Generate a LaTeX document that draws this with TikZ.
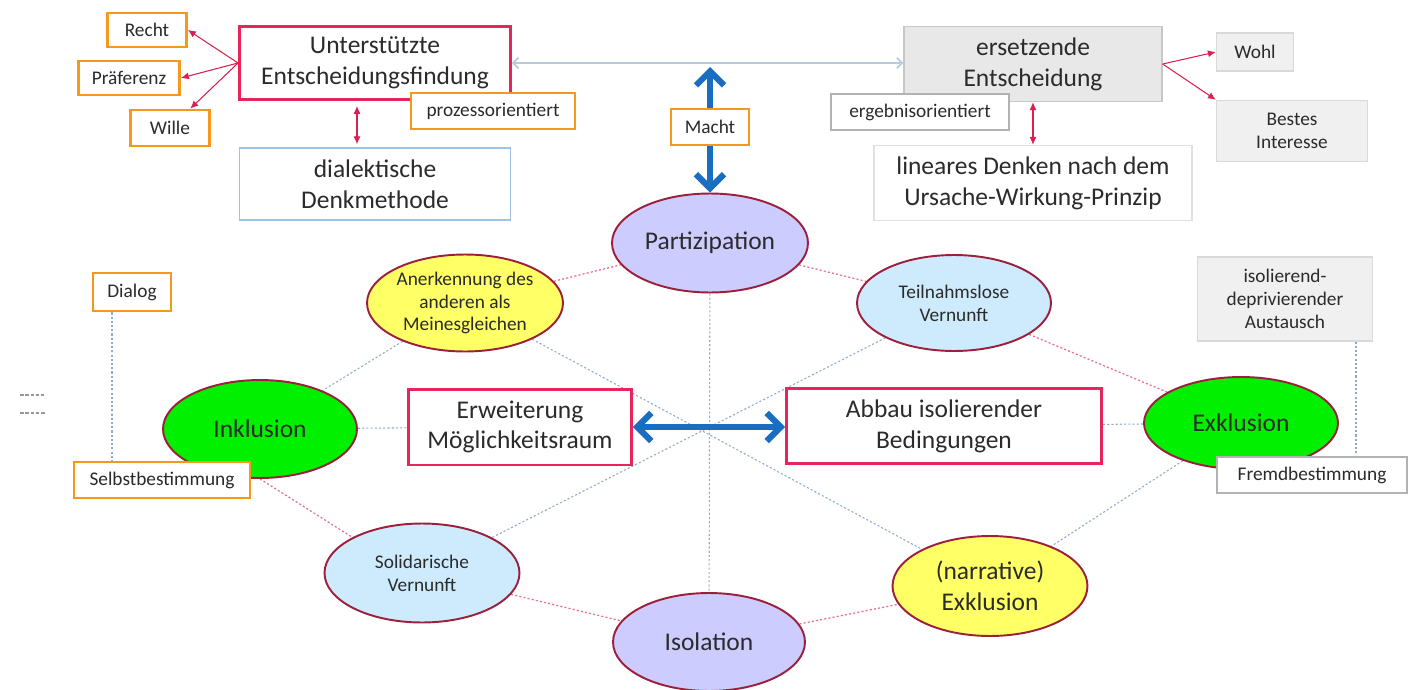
\documentclass[tikz,border=0pt]{standalone}
\usepackage{fontspec}
\setmainfont{Carlito}
\usetikzlibrary{arrows.meta,shapes.geometric}
\definecolor{boxred}{HTML}{E8245C}
\definecolor{tagorange}{HTML}{F7981D}
\definecolor{ovalline}{HTML}{9C1F3C}
\definecolor{lavender}{HTML}{CCCCFF}
\definecolor{skyfill}{HTML}{CDEBFD}
\definecolor{yellowfill}{HTML}{FFFF66}
\definecolor{greenfill}{HTML}{00F000}
\definecolor{arrowblue}{HTML}{1A6EC1}
\definecolor{linkblue}{HTML}{B7CBDF}
\definecolor{dotblue}{HTML}{8FAAC4}
\definecolor{dotred}{HTML}{E8728E}
\definecolor{arrowred}{HTML}{D92050}
\definecolor{textgray}{HTML}{2B2B2B}
\definecolor{methodblue}{HTML}{9DC3E6}
\pgfdeclarelayer{bg}
\pgfsetlayers{bg,main}

\begin{document}
\begin{tikzpicture}[x=0.02cm,y=-0.02cm,
  every node/.style={text=textgray},
  big/.style={font=\fontsize{14.5}{17.5}\selectfont},
  small/.style={font=\fontsize{11}{13}\selectfont},
  redbox/.style={draw=boxred,line width=1.7pt,fill=white,align=center,big,inner sep=1pt},
  tagbox/.style={draw=tagorange,line width=1.6pt,fill=white,align=center,small,inner sep=1pt},
  greybox/.style={draw=black!22,line width=0.8pt,fill=black!9,align=center,inner sep=1pt},
  paleblock/.style={draw=black!15,line width=0.8pt,fill=black!6,align=center,small,inner sep=1pt},
  plainbox/.style={draw=black!25,line width=0.8pt,fill=white,align=center,inner sep=1pt},
  oval/.style={ellipse,draw=ovalline,line width=1.1pt,inner sep=0pt,align=center},
  redarr/.style={-{Latex[length=4.5pt,width=4pt]},arrowred,line width=0.6pt},
  redboth/.style={{Latex[length=4.5pt,width=4pt]}-{Latex[length=4.5pt,width=4pt]},arrowred,line width=0.6pt},
  bluearr/.style={-{Straight Barb[length=8pt,width=16pt]},arrowblue,line width=3.5pt},
  blueboth/.style={{Straight Barb[length=8pt,width=16pt]}-{Straight Barb[length=8pt,width=16pt]},arrowblue,line width=3.5pt},
  thinlink/.style={{Straight Barb[length=3pt,width=6pt]}-{Straight Barb[length=3pt,width=6pt]},linkblue,line width=1pt},
  reddots/.style={dotred,line width=0.7pt,dash pattern=on 1.2pt off 1.2pt},
  bluedots/.style={dotblue,line width=0.6pt,dash pattern=on 1.2pt off 1.2pt}]

\useasboundingbox (0,0) rectangle (1414,690);

% top left: supported decision
\node[redbox,minimum width=5.42cm,minimum height=1.46cm] (unt) at (375,63) {Unterstützte\\Entscheidungsfindung};
\node[tagbox,minimum width=1.58cm,minimum height=0.68cm] (recht) at (147,30) {Recht};
\node[tagbox,minimum width=2.02cm,minimum height=0.68cm] (praef) at (129,78) {Präferenz};
\node[tagbox,minimum width=1.58cm,minimum height=0.72cm] (wille) at (170,128) {Wille};
\node[tagbox,minimum width=3.28cm,minimum height=0.72cm] (prozess) at (493,111) {prozessorientiert};
\node[plainbox,draw=methodblue,big,minimum width=5.42cm,minimum height=1.44cm] (dialekt) at (375,184) {dialektische\\Denkmethode};

\node[tagbox,minimum width=1.56cm,minimum height=0.72cm] (macht) at (710,127) {Macht};
\coordinate (machttop) at (710,67);

% top right: substitute decision
\node[greybox,big,minimum width=5.16cm,minimum height=1.5cm] (ers) at (1033,64) {ersetzende\\Entscheidung};
\node[plainbox,draw=black!30,small,minimum width=3.56cm,minimum height=0.72cm] (ergebnis) at (920,112) {ergebnisorientiert};
\node[plainbox,draw=black!12,big,minimum width=6.36cm,minimum height=1.5cm] (linear) at (1033,183) {lineares Denken nach dem\\Ursache-Wirkung-Prinzip};
\node[paleblock,minimum width=1.54cm,minimum height=0.76cm] (wohl) at (1255,52) {Wohl};
\node[paleblock,minimum width=3.02cm,minimum height=1.22cm] (bestes) at (1292,131) {Bestes\\Interesse};

% middle
\node[oval,fill=lavender,big,minimum width=3.92cm,minimum height=1.98cm] (part) at (710,243) {Partizipation};
\node[oval,fill=yellowfill,small,minimum width=3.92cm,minimum height=1.94cm] (anerk) at (465,303) {Anerkennung des\\anderen als\\Meinesgleichen};
\node[oval,fill=skyfill,small,minimum width=3.88cm,minimum height=1.92cm] (teiln) at (954,303) {Teilnahmslose\\Vernunft};
\node[tagbox,minimum width=1.56cm,minimum height=0.76cm] (dialog) at (132,292) {Dialog};
\node[paleblock,minimum width=3.5cm,minimum height=1.68cm] (isolier) at (1285,299) {isolierend-\\deprivierender\\Austausch};
\node[oval,fill=greenfill,big,minimum width=3.88cm,minimum height=1.96cm] (inkl) at (260,429) {Inklusion};
\node[redbox,minimum width=4.46cm,minimum height=1.52cm] (erw) at (520,427) {Erweiterung\\Möglichkeitsraum};
\node[redbox,minimum width=6.3cm,minimum height=1.5cm] (abbau) at (944,426) {Abbau isolierender\\Bedingungen};
\node[oval,fill=greenfill,big,minimum width=3.88cm,minimum height=1.84cm] (exkl) at (1241,423) {Exklusion};
\node[tagbox,minimum width=3.52cm,minimum height=0.72cm] (selbst) at (162,480) {Selbstbestimmung};
\node[plainbox,draw=black!30,small,minimum width=3.8cm,minimum height=0.72cm] (fremd) at (1312,475) {Fremdbestimmung};

% bottom
\node[oval,fill=skyfill,small,minimum width=3.9cm,minimum height=1.98cm] (solid) at (422,573) {Solidarische\\Vernunft};
\node[oval,fill=lavender,big,minimum width=3.84cm,minimum height=1.96cm] (isol) at (709,642) {Isolation};
\node[oval,fill=yellowfill,big,minimum width=3.9cm,minimum height=2cm] (narr) at (990,586) {(narrative)\\Exklusion};

% dotted links behind the nodes
\begin{pgfonlayer}{bg}
\draw[reddots] (anerk) -- (part);
\draw[reddots] (part) -- (teiln);
\draw[reddots] (teiln) -- (exkl);
\draw[reddots] (inkl.south) -- (solid.north west);
\draw[reddots] (solid) -- (isol);
\draw[reddots] (isol) -- (narr);
\draw[bluedots] (anerk) -- (inkl);
\draw[bluedots] (anerk) -- (narr);
\draw[bluedots] (teiln) -- (solid);
\draw[bluedots] (part) -- (isol);
\draw[bluedots] (inkl) -- (erw);
\draw[bluedots] (abbau) -- (exkl);
\draw[bluedots] (exkl) -- (narr);
\draw[bluedots] ([xshift=-0.4cm]dialog.south) -- ([xshift=-0.4cm]dialog.south |- selbst.north);
\draw[bluedots] ([xshift=1.42cm]isolier.south) -- ([xshift=1.42cm]isolier.south |- fremd.north);
\end{pgfonlayer}

% arrows
\draw[redarr] (unt.west) -- (recht.east);
\draw[redarr] (unt.west) -- (praef.east);
\draw[redarr] (unt.west) -- (wille);
\draw[redboth,shorten <=0.1cm,shorten >=0.06cm] ([xshift=-0.36cm]unt.south) -- ([xshift=-0.36cm]unt.south |- dialekt.north);
\draw[redarr] (ers.east) -- (wohl.west);
\draw[redarr] (ers.east) -- (bestes.north west);
\draw[redboth] (ers.south) -- (linear.north);
\draw[thinlink] (unt.east) -- (unt.east -| ers.west);
\draw[bluearr] (macht) -- (machttop);
\draw[bluearr] (macht) -- (part);
\draw[blueboth] (erw.east) -- (erw.east -| abbau.west);

% stray marks on the left
\coordinate (markA) at (20,395);
\coordinate (markB) at (20,413);
\draw[black!40,line width=0.8pt,dash pattern=on 2pt off 1pt] (markA) -- ++(24,0);
\draw[black!40,line width=0.8pt,dash pattern=on 2pt off 1pt] (markB) -- ++(26,0);
\end{tikzpicture}
\end{document}
